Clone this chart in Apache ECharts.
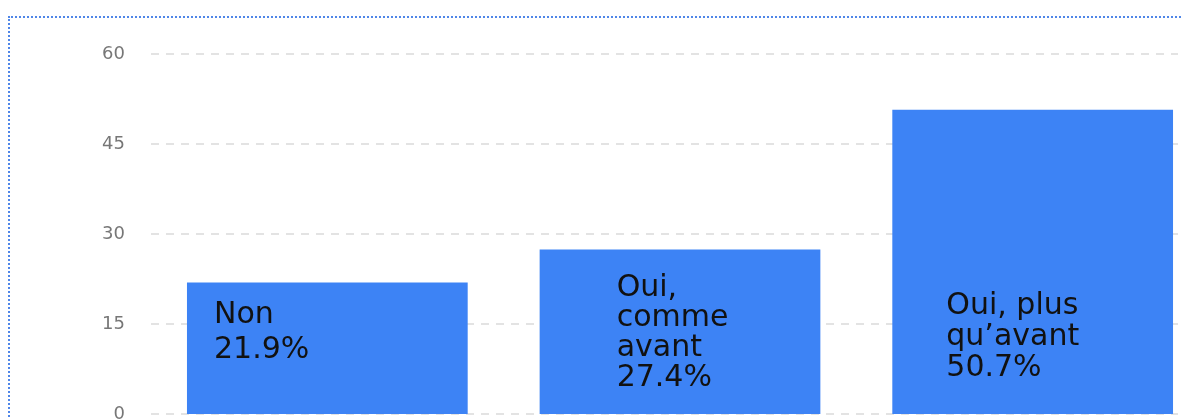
<!DOCTYPE html>
<html>
<head>
<meta charset="utf-8">
<script src="https://cdn.jsdelivr.net/npm/echarts@6/dist/echarts.min.js"></script>
<style>
  html, body { margin: 0; padding: 0; width: 1183px; height: 419px; overflow: hidden; background: #fff; }
  #frame { position: absolute; left: 8px; top: 16px; width: 1400px; height: 600px; border: 2px dotted #4f86e8; box-sizing: border-box; }
  #main { position: absolute; left: 0; top: 0; width: 1178px; height: 419px; }
</style>
</head>
<body>
<div id="frame"></div>
<div id="main"></div>
<script>
// bar names (as wrapped inside the bars) and percentages
var categories = ['Non', 'Oui,\ncomme\navant', 'Oui, plus\nqu’avant'];
var values = [21.9, 27.4, 50.7];
var yTicks = [0, 15, 30, 45, 60];

// where each label sits inside its bar (px from bar top-left) and its line height
var labelPos = [[27, 15], [77, 24], [54, 181]];
var labelLineHeight = [35, 30, 31];

var chart = echarts.init(document.getElementById('main'), null, { renderer: 'canvas' });

var seriesData = values.map(function (v, i) {
  return {
    value: v,
    label: {
      position: labelPos[i],
      lineHeight: labelLineHeight[i]
    }
  };
});

var option = {
  animation: false,
  grid: {
    left: 151,
    width: 1058,
    top: 54,
    height: 360,
    outerBoundsMode: 'none',
    containLabel: false
  },
  xAxis: {
    type: 'category',
    data: categories,
    axisLine: { show: false },
    axisTick: { show: false },
    axisLabel: { show: false }
  },
  yAxis: {
    type: 'value',
    min: yTicks[0],
    max: yTicks[yTicks.length - 1],
    interval: yTicks[1] - yTicks[0],
    axisLine: { show: false },
    axisTick: { show: false },
    axisLabel: {
      margin: 26,
      color: '#777',
      fontSize: 18,
      fontFamily: 'DejaVu Sans'
    },
    splitLine: {
      lineStyle: {
        color: '#e3e3e3',
        width: 2,
        type: [8, 7]
      }
    }
  },
  series: [{
    type: 'bar',
    data: seriesData,
    barCategoryGap: '20.4%',
    itemStyle: { color: '#3d83f5' },
    label: {
      show: true,
      align: 'left',
      verticalAlign: 'top',
      color: '#111',
      fontSize: 30,
      fontFamily: 'DejaVu Sans',
      formatter: function (p) {
        return p.name + '\n' + p.value.toFixed(1) + '%';
      }
    }
  }]
};

chart.setOption(option);
</script>
</body>
</html>
